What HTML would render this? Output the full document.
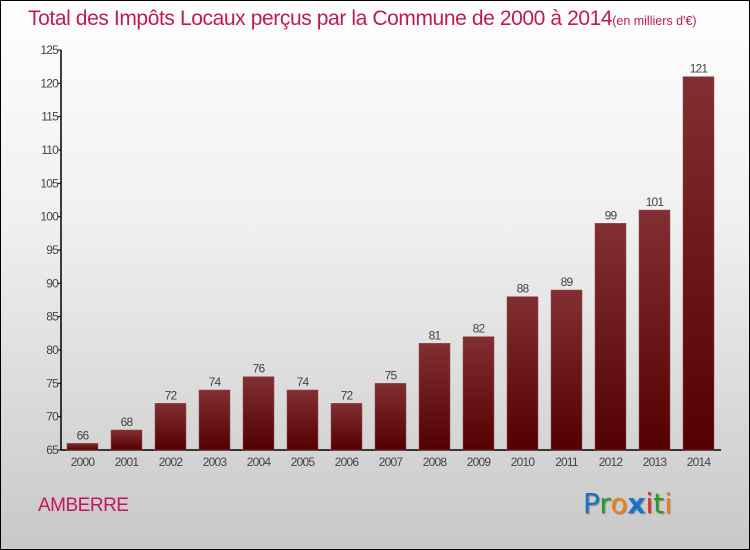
<!DOCTYPE html>
<html><head><meta charset="utf-8"><style>
body{margin:0}
#wrap{position:relative;width:748px;height:548px;border:1px solid #000;background:linear-gradient(#fefefe,#f0f0f0 40%,#c8c8c8);font-family:"Liberation Sans",sans-serif;overflow:hidden}
#title{position:absolute;left:27px;top:6px;font-size:21px;color:#c2185b;white-space:nowrap;letter-spacing:-0.4px}
#title small{font-size:12.5px;letter-spacing:0}
#town{position:absolute;left:37px;top:494px;font-size:19px;color:#c2185b;letter-spacing:-0.5px}
#logo{position:absolute;left:582px;top:486px;font-size:28px;font-family:"DejaVu Sans",sans-serif;text-shadow:1px 1px 1px #888}
</style></head><body>
<div id="wrap">
<div id="title">Total des Impôts Locaux perçus par la Commune de 2000 à 2014<small>(en milliers d'€)</small></div>
<svg id="chart" width="750" height="550" style="position:absolute;left:-1px;top:-1px">
<defs><linearGradient id="g" x1="0" y1="0" x2="0" y2="1"><stop offset="0" stop-color="#822f33"/><stop offset="1" stop-color="#540000"/></linearGradient></defs>
</svg>
<div id="town">AMBERRE</div>
<div id="logo"><span style="color:#1a73c8">P</span><span style="color:#2a9a2a">r</span><span style="color:#f08010">o</span><span style="color:#1a73c8;font-weight:bold">x</span><span style="color:#e03020">i</span><span style="color:#2a9a2a">t</span><span style="color:#f08010">i</span></div>
</div>
<script>
const years=["2000","2001","2002","2003","2004","2005","2006","2007","2008","2009","2010","2011","2012","2013","2014"];
const values=[66,68,72,74,76,74,72,75,81,82,88,89,99,101,121];
const yTicks=[65,70,75,80,85,90,95,100,105,110,115,120,125];
const svg=document.getElementById('chart');
const NS='http://www.w3.org/2000/svg';
const y0=450,yTop=50,vmin=65,vmax=125;
const yS=v=>y0-(v-vmin)/(vmax-vmin)*(y0-yTop);
const xS=i=>67+i*44;
const bw=31;
function mk(t,a,txt){const e=document.createElementNS(NS,t);for(const k in a)e.setAttribute(k,a[k]);if(txt!==undefined)e.textContent=txt;svg.appendChild(e);return e;}
let ax=mk('line',{x1:61,y1:yTop,x2:61,y2:y0,stroke:'#000','stroke-width':1.5});


let bx=mk('line',{x1:61,y1:y0,x2:721,y2:y0,stroke:'#000','stroke-width':1.5});


yTicks.forEach(v=>{
 const y=yS(v);
 let t=mk('line',{x1:58,y1:y,x2:61,y2:y,stroke:'#000'});
 
 
 let l=mk('text',{x:58,y:y+4,'text-anchor':'end','font-size':12,fill:'#444','letter-spacing':'-0.8'},v);
 
 
});
years.forEach((yr,i)=>{
 const v=values[i],x=xS(i),y=yS(v);
 let r=mk('rect',{x:x,y:y,width:bw,height:y0-y,fill:'url(#g)',stroke:'#9a4a4e','stroke-width':0.5});
 
 
 let vl=mk('text',{x:x+bw/2,y:y-4,'text-anchor':'middle','font-size':12,fill:'#444','letter-spacing':'-0.8'},v);
 
 
 let xl=mk('text',{x:x+bw/2,y:466,'text-anchor':'middle','font-size':12,fill:'#444','letter-spacing':'-0.8'},yr);
 
 
});
</script>
</body></html>
